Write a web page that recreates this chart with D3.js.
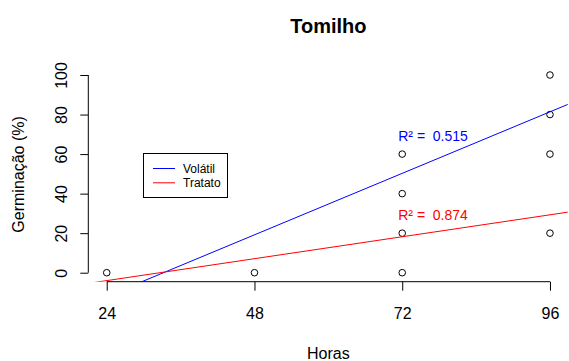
<!DOCTYPE html>
<html>
<head>
<meta charset="utf-8">
<script src="https://cdn.jsdelivr.net/npm/d3@7"></script>
<style>
  html, body { margin: 0; padding: 0; background: #fff; }
  svg { display: block; font-family: "Liberation Sans", Arial, sans-serif; }
</style>
</head>
<body>
<svg id="chart" width="569" height="361"></svg>
<script>
// Observed germination per sampling time
const pointHours  = [24, 48, 72, 72, 72, 72, 96, 96, 96, 96];
const pointValues = [0, 0, 0, 20, 40, 60, 20, 60, 80, 100];

// Linear fits per treatment
const seriesNames = ["Volátil", "Tratato"];
const seriesColors = ["blue", "red"];
const intercepts = [-43.05, -15.09];
const slopes = [1.296, 0.4622];
const r2Values = ["0.515", "0.874"];
const r2LabelAt = [[72, 66.8], [72, 26.7]];

const xTicks = [24, 48, 72, 96];
const yTicks = [0, 20, 40, 60, 80, 100];

const svg = d3.select("#chart");

const x = d3.scaleLinear().domain([21.12, 98.88]).range([89, 567.7]);
const y = d3.scaleLinear().domain([-4.55, 104]).range([281.7, 67.1]);

const axisY = y.range()[0];
const axisX = 88.3;

// Clip fit lines to the plotting region
svg.append("clipPath").attr("id", "plotClip")
  .append("rect")
  .attr("x", x.range()[0]).attr("y", y.range()[1])
  .attr("width", x.range()[1] - x.range()[0] + 2)
  .attr("height", y.range()[0] - y.range()[1]);

// Title
svg.append("text")
  .attr("x", (x.range()[0] + x.range()[1]) / 2)
  .attr("y", 33)
  .attr("text-anchor", "middle")
  .attr("font-size", 20).attr("font-weight", "bold")
  .text("Tomilho");

// X axis
const gx = svg.append("g").attr("transform", `translate(0,${axisY})`)
  .call(d3.axisBottom(x).tickValues(xTicks).tickSize(9).tickSizeOuter(0));
gx.select(".domain").remove();
gx.append("line")
  .attr("x1", x(xTicks[0])).attr("x2", x(xTicks[xTicks.length - 1]))
  .attr("stroke", "#000");
gx.selectAll(".tick line").attr("stroke", "#000");
gx.selectAll(".tick text")
  .attr("y", 37).attr("dy", 0)
  .attr("font-size", 16).attr("fill", "#000")
  .attr("font-family", "Liberation Sans, Arial, sans-serif");

// Y axis
const gy = svg.append("g").attr("transform", `translate(${axisX},0)`)
  .call(d3.axisLeft(y).tickValues(yTicks).tickSize(8).tickSizeOuter(0));
gy.select(".domain").remove();
gy.append("line")
  .attr("y1", y(yTicks[0])).attr("y2", y(yTicks[yTicks.length - 1]))
  .attr("stroke", "#000");
gy.selectAll(".tick line").attr("stroke", "#000");
gy.selectAll(".tick text")
  .attr("x", 0).attr("y", -21.6).attr("dy", 0)
  .attr("transform", "rotate(-90)")
  .attr("text-anchor", "middle")
  .attr("font-size", 16).attr("fill", "#000")
  .attr("font-family", "Liberation Sans, Arial, sans-serif");

// Axis titles
svg.append("text")
  .attr("x", (x.range()[0] + x.range()[1]) / 2)
  .attr("y", 358.5)
  .attr("text-anchor", "middle")
  .attr("font-size", 16)
  .text("Horas");

svg.append("text")
  .attr("transform", `translate(24,${(y.range()[0] + y.range()[1]) / 2}) rotate(-90)`)
  .attr("text-anchor", "middle")
  .attr("font-size", 16)
  .text("Germinação (%)");

// Data points
svg.append("g").selectAll("circle")
  .data(pointHours.map((h, i) => [h, pointValues[i]]))
  .join("circle")
  .attr("cx", d => x(d[0]))
  .attr("cy", d => y(d[1]))
  .attr("r", 3.3)
  .attr("fill", "none")
  .attr("stroke", "#000")
  .attr("stroke-width", 1);

// Fit lines across the plotting region
const xDom = x.domain();
svg.append("g").attr("clip-path", "url(#plotClip)")
  .selectAll("line")
  .data(seriesNames.map((n, i) => i))
  .join("line")
  .attr("x1", x(xDom[0])).attr("x2", x(xDom[1]))
  .attr("y1", i => y(intercepts[i] + slopes[i] * xDom[0]))
  .attr("y2", i => y(intercepts[i] + slopes[i] * xDom[1]))
  .attr("stroke", i => seriesColors[i])
  .attr("stroke-width", 1);

// R² annotations
svg.append("g").selectAll("text")
  .data(seriesNames.map((n, i) => i))
  .join("text")
  .attr("x", i => x(r2LabelAt[i][0]) - 4)
  .attr("y", i => y(r2LabelAt[i][1]))
  .attr("font-size", 14)
  .attr("fill", i => seriesColors[i])
  .text(i => "R² =\u00A0\u00A0" + r2Values[i]);

// Legend
const legend = svg.append("g");
legend.append("rect")
  .attr("x", 143.5).attr("y", 153.5)
  .attr("width", 84).attr("height", 44)
  .attr("fill", "#fff").attr("stroke", "#000").attr("stroke-width", 1);
seriesNames.forEach((name, i) => {
  const ly = 168.5 + i * 14.3;
  legend.append("line")
    .attr("x1", 153).attr("x2", 175)
    .attr("y1", ly).attr("y2", ly)
    .attr("stroke", seriesColors[i]).attr("stroke-width", 1);
  legend.append("text")
    .attr("x", 183).attr("y", ly)
    .attr("dy", "0.35em")
    .attr("font-size", 12)
    .text(name);
});
</script>
</body>
</html>
